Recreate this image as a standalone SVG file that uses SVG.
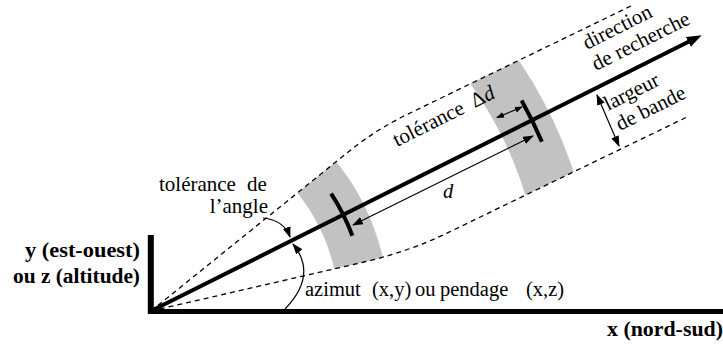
<svg xmlns="http://www.w3.org/2000/svg" width="723" height="347" viewBox="0 0 723 347">
<style>
text{font-family:'Liberation Serif','Times New Roman',serif;font-size:20.5px;fill:#000}
.b{font-weight:bold;font-size:20px}
.i{font-style:italic}
.r{font-size:21px}
.dash{fill:none;stroke:#000;stroke-width:1.3;stroke-dasharray:5 4}
.thin{fill:none;stroke:#000;stroke-width:1.2}
.tick{fill:none;stroke:#000;stroke-width:4;stroke-linecap:butt}
.band{fill:#c2c2c2;fill-rule:evenodd}
</style>
<defs>
<marker id="big" markerUnits="userSpaceOnUse" markerWidth="16" markerHeight="12" refX="3" refY="5.5" orient="auto"><path d="M0,0 L15,5.5 L0,11 z" fill="#000"/></marker>
<marker id="med" markerUnits="userSpaceOnUse" markerWidth="12" markerHeight="9" refX="10" refY="4" orient="auto-start-reverse"><path d="M0,0 L11,4 L0,8 z" fill="#000"/></marker>
<marker id="sml" markerUnits="userSpaceOnUse" markerWidth="9" markerHeight="7" refX="7" refY="3" orient="auto-start-reverse"><path d="M0,0 L8,3 L0,6 z" fill="#000"/></marker>
<clipPath id="env"><path d="M151,311 L348.8,151.5 Q376,129.5 407.5,114.3 L633,5 L700,-30 L760,90 L687,117 L448.5,232.4 Q408,252 364.1,262 Z"/></clipPath>
</defs>
<g id="bands" clip-path="url(#env)">
<path class="band" d="M-87,311 a238,238 0 1,0 476,0 a238,238 0 1,0 -476,0 Z M-37,311 a188,188 0 1,0 376,0 a188,188 0 1,0 -376,0 Z"/>
<path class="band" d="M-294,311 a445,445 0 1,0 890,0 a445,445 0 1,0 -890,0 Z M-241,311 a392,392 0 1,0 784,0 a392,392 0 1,0 -784,0 Z"/>
</g>
<g id="envelope">
<path class="dash" d="M151,311 L348.8,151.5 Q376,129.5 407.5,114.3 L633,5"/>
<path class="dash" d="M151,311 L364.1,262 Q408,252 448.5,232.4 L687,117"/>
</g>
<g id="axes">
<line x1="150.8" y1="235" x2="150.8" y2="314" stroke="#000" stroke-width="6"/>
<line x1="148" y1="311.5" x2="723" y2="311.5" stroke="#000" stroke-width="5"/>
</g>
<g id="connectors">
<path d="M151,311 L691,40.5" stroke="#000" stroke-width="4" fill="none" marker-end="url(#big)"/>
<path class="tick" d="M331.1,193.6 A215,215 0 0,1 352.4,235.7"/>
<path class="tick" d="M521.6,100.6 A426,426 0 0,1 541.9,141.8"/>
<line class="thin" x1="353" y1="225" x2="533" y2="136" marker-start="url(#med)" marker-end="url(#med)"/>
<line class="thin" x1="497" y1="117.5" x2="522" y2="107" marker-start="url(#sml)" marker-end="url(#sml)"/>
<line class="thin" x1="597" y1="95" x2="619" y2="146" marker-start="url(#med)" marker-end="url(#med)"/>
<path class="thin" d="M263,218 Q284,220 290,237" marker-end="url(#med)"/>
<path class="thin" d="M285,309 Q318,275 293,244" marker-end="url(#med)"/>
</g>
<g id="labels">
<text class="b" x="140" y="257" text-anchor="end" textLength="115" lengthAdjust="spacingAndGlyphs">y (est-ouest)</text>
<text class="b" x="140" y="283" text-anchor="end" textLength="127" lengthAdjust="spacingAndGlyphs">ou z (altitude)</text>
<text class="b" x="607" y="336" textLength="116" lengthAdjust="spacingAndGlyphs">x (nord-sud)</text>
<text class="r" y="191"><tspan x="159">tolérance</tspan><tspan x="247">de</tspan></text>
<text class="r" x="268" y="212.5" text-anchor="end">l’angle</text>
<text y="296"><tspan x="305">azimut</tspan><tspan x="372">(x,y)</tspan><tspan x="415">ou</tspan><tspan x="440">pendage</tspan><tspan x="526">(x,z)</tspan></text>
<text class="i" x="443" y="198">d</text>
<text class="r" transform="translate(397,147) rotate(-26.6)"><tspan x="0">tolérance</tspan><tspan x="87">Δ</tspan><tspan class="i">d</tspan></text>
<text class="r" transform="translate(587,50) rotate(-27)">direction</text>
<text class="r" transform="translate(596,71) rotate(-26.6)">de recherche</text>
<text class="r" transform="translate(608,111) rotate(-26.6)">largeur</text>
<text class="r" transform="translate(620,131) rotate(-26.6)">de bande</text>
</g>
</svg>
